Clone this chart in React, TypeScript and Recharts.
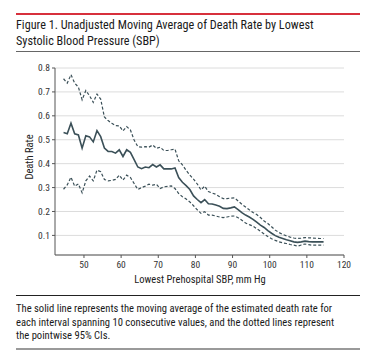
import React from "react";
import { LineChart, Line, XAxis, YAxis, CartesianGrid } from "recharts";

const sbp = [
  44.5, 45.5, 46.5, 47.5, 48.5, 49.5, 50.5, 51.5, 52.5, 53.5, 54.5,
  55.5, 56.5, 57.5, 58.5, 59.5, 60.5, 61.5, 62.5, 63.5, 64.5,
  65.5, 66.5, 67.5, 68.5, 69.5, 70.5, 71.5, 72.5, 73.5, 74.5,
  75.5, 76.5, 77.5, 78.5, 79.5, 80.5, 81.5, 82.5, 83.5, 84.5,
  85.5, 86.5, 87.5, 88.5, 89.5, 90.5, 91.5, 92.5, 93.5, 94.5,
  95.5, 96.5, 97.5, 98.5, 99.5, 100.5, 101.5, 102.5, 103.5, 104.5,
  105.5, 106.5, 107.5, 108.5, 109.5, 110.5, 111.5, 112.5, 113.5, 114.5,
];

const deathRate = [
  0.53, 0.525, 0.569, 0.525, 0.52, 0.465, 0.517, 0.512, 0.491, 0.538, 0.513,
  0.465, 0.451, 0.451, 0.444, 0.458, 0.43, 0.458, 0.447, 0.417, 0.386,
  0.379, 0.386, 0.383, 0.396, 0.386, 0.395, 0.378, 0.378, 0.378, 0.382,
  0.342, 0.322, 0.308, 0.292, 0.265, 0.25, 0.237, 0.25, 0.232, 0.231,
  0.227, 0.222, 0.213, 0.212, 0.215, 0.219, 0.208, 0.195, 0.185, 0.177,
  0.167, 0.155, 0.143, 0.133, 0.12, 0.109, 0.099, 0.092, 0.087, 0.082,
  0.078, 0.073, 0.071, 0.073, 0.076, 0.074, 0.073, 0.073, 0.073, 0.073,
];

const upperCI = [
  0.755, 0.737, 0.772, 0.737, 0.72, 0.667, 0.706, 0.684, 0.656, 0.691, 0.67,
  0.595, 0.58, 0.569, 0.559, 0.558, 0.537, 0.555, 0.541, 0.499, 0.471,
  0.469, 0.471, 0.469, 0.478, 0.464, 0.469, 0.455, 0.455, 0.458, 0.461,
  0.412, 0.395, 0.372, 0.352, 0.335, 0.315, 0.29, 0.306, 0.283, 0.277,
  0.272, 0.262, 0.254, 0.254, 0.256, 0.257, 0.244, 0.23, 0.219, 0.207,
  0.196, 0.187, 0.175, 0.16, 0.15, 0.136, 0.122, 0.112, 0.104, 0.098,
  0.093, 0.089, 0.087, 0.088, 0.091, 0.09, 0.089, 0.088, 0.087, 0.087,
];

const lowerCI = [
  0.293, 0.311, 0.343, 0.306, 0.315, 0.278, 0.328, 0.348, 0.328, 0.373, 0.366,
  0.334, 0.328, 0.33, 0.334, 0.352, 0.331, 0.352, 0.342, 0.317, 0.292,
  0.3, 0.306, 0.314, 0.31, 0.314, 0.296, 0.303, 0.305, 0.307, 0.296,
  0.275, 0.262, 0.252, 0.24, 0.224, 0.207, 0.192, 0.199, 0.185, 0.185,
  0.181, 0.177, 0.174, 0.177, 0.18, 0.181, 0.174, 0.163, 0.152, 0.145,
  0.139, 0.128, 0.117, 0.106, 0.095, 0.086, 0.079, 0.073, 0.069, 0.066,
  0.062, 0.059, 0.055, 0.06, 0.064, 0.061, 0.059, 0.059, 0.059, 0.059,
];

const xTicks = [50, 60, 70, 80, 90, 100, 110, 120];
const yTicks = [0.1, 0.2, 0.3, 0.4, 0.5, 0.6, 0.7, 0.8];

const titleLines = [
  "Figure 1. Unadjusted Moving Average of Death Rate by Lowest",
  "Systolic Blood Pressure (SBP)",
];
const captionLines = [
  "The solid line represents the moving average of the estimated death rate for",
  "each interval spanning 10 consecutive values, and the dotted lines represent",
  "the pointwise 95% CIs.",
];
const xLabel = "Lowest Prehospital SBP, mm Hg";
const yLabel = "Death Rate";

const data = sbp.map((x, i) => ({
  sbp: x,
  mid: deathRate[i],
  upper: upperCI[i],
  lower: lowerCI[i],
}));

const FONT = '"Liberation Sans Narrow", "Roboto Condensed", "Liberation Sans", Arial, sans-serif';
const LINE = "#3b5058";

export default function App() {
  return (
    <div
      style={{
        position: "fixed",
        left: 0,
        top: 0,
        width: 370,
        height: 360,
        background: "#fff",
        fontFamily: FONT,
        color: "#1a1a1a",
        overflow: "hidden",
      }}
    >
      <div style={{ position: "absolute", left: 16, top: 13, width: 344, height: 2, background: "#d7303c" }} />
      <div style={{ position: "absolute", left: 16, top: 17, fontSize: 12.2, lineHeight: "16px", whiteSpace: "nowrap" }}>
        {titleLines.map((t) => (
          <div key={t}>{t}</div>
        ))}
      </div>
      <div style={{ position: "absolute", left: 16, top: 51, width: 344, height: 1, background: "#666" }} />

      <div style={{ position: "absolute", left: 0, top: 0 }}>
        <LineChart
          width={370}
          height={300}
          data={data}
          margin={{ top: 68, right: 26, bottom: 25, left: 0 }}
        >
          <CartesianGrid horizontal vertical={false} stroke="#dcdcdc" strokeWidth={1} />
          <XAxis
            dataKey="sbp"
            type="number"
            domain={[42.2, 120]}
            ticks={xTicks}
            allowDataOverflow
            height={20}
            tickSize={3}
            tickMargin={3}
            axisLine={{ stroke: "#555" }}
            tickLine={{ stroke: "#555" }}
            tick={{ fontSize: 9.5, fill: "#333", fontFamily: FONT }}
          />
          <YAxis
            type="number"
            domain={[0.018, 0.8]}
            ticks={yTicks}
            allowDataOverflow
            width={55}
            tickSize={3}
            tickMargin={2}
            axisLine={{ stroke: "#555" }}
            tickLine={{ stroke: "#555" }}
            tickFormatter={(v: number) => v.toFixed(1)}
            tick={{ fontSize: 9.5, fill: "#333", fontFamily: FONT }}
          />
          <Line type="linear" dataKey="upper" stroke={LINE} strokeWidth={1.2} strokeDasharray="3 2" dot={false} isAnimationActive={false} />
          <Line type="linear" dataKey="lower" stroke={LINE} strokeWidth={1.2} strokeDasharray="3 2" dot={false} isAnimationActive={false} />
          <Line type="linear" dataKey="mid" stroke={LINE} strokeWidth={1.6} dot={false} isAnimationActive={false} />
        </LineChart>
      </div>

      <div
        style={{
          position: "absolute",
          left: 29,
          top: 157,
          transform: "translate(-50%, -50%) rotate(-90deg)",
          fontSize: 10.5,
          whiteSpace: "nowrap",
          color: "#222",
        }}
      >
        {yLabel}
      </div>
      <div
        style={{
          position: "absolute",
          left: 200,
          top: 273,
          transform: "translateX(-50%)",
          fontSize: 10.5,
          whiteSpace: "nowrap",
          color: "#222",
        }}
      >
        {xLabel}
      </div>

      <div style={{ position: "absolute", left: 16, top: 295, width: 344, height: 1, background: "#222" }} />
      <div style={{ position: "absolute", left: 16, top: 302, fontSize: 10.6, lineHeight: "13.7px", whiteSpace: "nowrap" }}>
        {captionLines.map((t) => (
          <div key={t}>{t}</div>
        ))}
      </div>
      <div style={{ position: "absolute", left: 16, top: 348, width: 344, height: 2, background: "#9a9a9a" }} />
    </div>
  );
}
